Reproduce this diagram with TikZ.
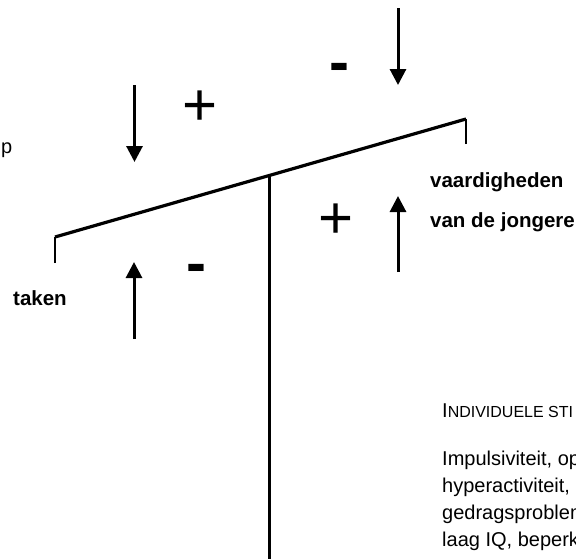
\documentclass[tikz,border=0pt]{standalone}
\usepackage{fontspec}
\setmainfont{Liberation Sans}
\usetikzlibrary{arrows.meta,calc}
\tikzset{
  beam/.style={draw=black,line width=3.2pt},
  post/.style={draw=black,line width=3pt},
  tick/.style={draw=black,line width=2.2pt},
  force/.style={-{Triangle[length=16pt,width=16pt]},draw=black,line width=3pt},
  plussign/.style={inner sep=0pt,anchor=base,font=\fontsize{60}{60}\selectfont},
  minsign/.style={inner sep=0pt,anchor=base,font=\fontsize{60}{60}\selectfont\bfseries},
  lbl/.style={inner sep=0pt,anchor=base west,font=\fontsize{20.5}{24}\selectfont\bfseries},
  body/.style={inner sep=0pt,anchor=base west,font=\fontsize{20}{24}\selectfont}
}
\newcommand{\smc}[1]{{\fontsize{16}{20}\selectfont #1}}

\begin{document}
\begin{tikzpicture}[x=1pt,y=-1pt]
\useasboundingbox (0,0) rectangle (576,558);
\clip (0,0) rectangle (576,558);
% beam and post
\coordinate (bl) at (55,237);
\coordinate (br) at (466,119);
\coordinate (pv) at ($(bl)!0.521!(br)$);
\coordinate (blt) at (55,263);
\coordinate (brt) at (466,144);
\coordinate (foot) at (pv |- 0,562);
\draw[tick] (blt) -- (bl);
\draw[tick] (brt) -- (br);
\draw[beam] (bl) -- (br);
\draw[post] (pv) -- (foot);
% forces
\coordinate (f1a) at (134.5,85);   \coordinate (f1b) at (134.5,162);
\coordinate (f2a) at (398,8);      \coordinate (f2b) at (398,85);
\coordinate (f3a) at (398,272);    \coordinate (f3b) at (398,196);
\coordinate (f4a) at (134,339);    \coordinate (f4b) at (134,262);
\draw[force] (f1a) -- (f1b);
\draw[force] (f2a) -- (f2b);
\draw[force] (f3a) -- (f3b);
\draw[force] (f4a) -- (f4b);
% signs
\node[plussign] (p1) at (200,125) {+};
\node[plussign] (p2) at (336,238) {+};
\node[minsign] (m1) at (339,82) {-};
\node[minsign] (m2) at (196,283) {-};
% labels
\node[body] (lp) at (1,153) {p};
\node[lbl] (vaard) at (430,187) {vaardigheden};
\node[lbl] (jong) at (430,227) {van de jongere};
\node[lbl] (taken) at (13,305) {taken};
\node[body] (kop) at (442,417) {I\smc{NDIVIDUELE STI}};
\node[body] (r1) at (442,465) {Impulsiviteit, op};
\node[body] (r2) at (442,492) {hyperactiviteit,};
\node[body] (r3) at (442,519) {gedragsproblem};
\node[body] (r4) at (442,546) {laag IQ, beperk};
\end{tikzpicture}
\end{document}
